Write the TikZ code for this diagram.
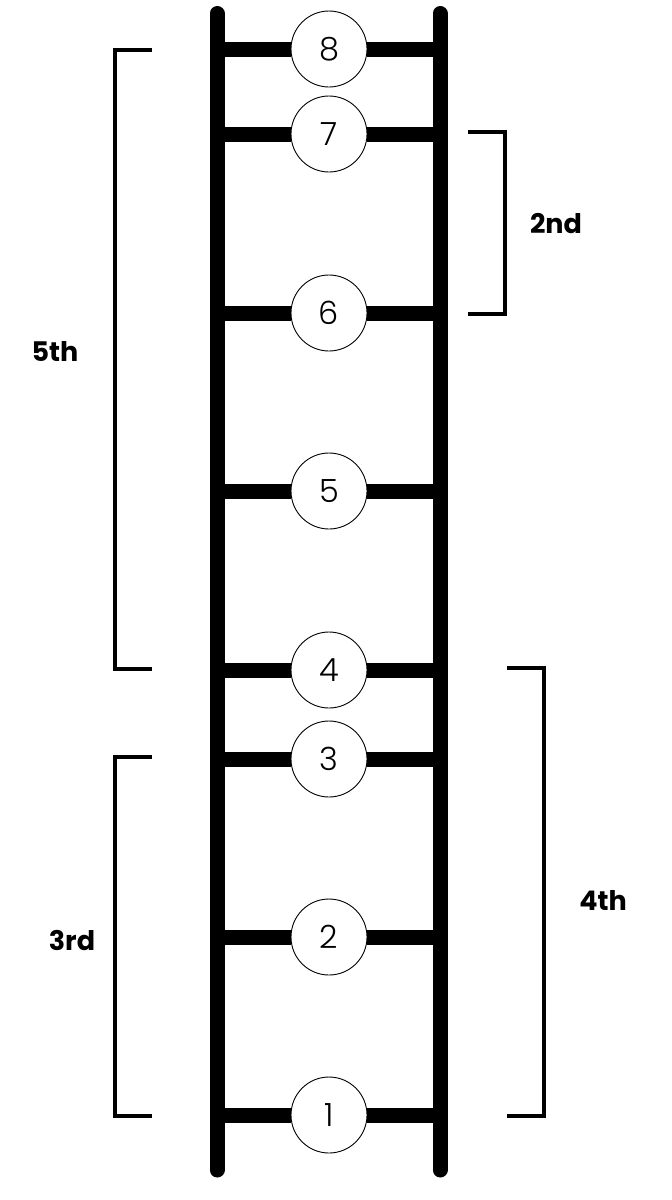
\documentclass[tikz,border=0pt]{standalone}
\usepackage{fontspec}
\setmainfont{Poppins}
\IfFontExistsTF{Poppins Light}{\newfontfamily\numfont{Poppins Light}}{\newfontfamily\numfont{Poppins}}
\begin{document}
\begin{tikzpicture}[x=1pt,y=-1pt,
  rail/.style={line width=15pt,line cap=round},
  rung/.style={line width=15pt},
  num/.style={circle,draw,line width=0.9pt,fill=white,minimum size=76pt,inner sep=0pt,font=\numfont\fontsize{32}{32}\selectfont},
  brk/.style={line width=3.5pt,line join=miter},
  lbl/.style={font=\fontsize{27}{27}\selectfont\bfseries}]
\useasboundingbox (0,0) rectangle (672,1200);
\coordinate (LT) at (217,13.5);
\coordinate (LB) at (217,1170);
\coordinate (RT) at (440,13.5);
\coordinate (RB) at (440,1170);
\draw[rail] (LT) -- (LB);
\draw[rail] (RT) -- (RB);
\foreach \i/\y in {8/49,7/134,6/313,5/491,4/670,3/759,2/937,1/1115}{
  \coordinate (L\i) at (217,\y);
  \coordinate (R\i) at (440,\y);
  \node[num] (c\i) at (329,\y) {\i};
  \draw[rung] (L\i) -- (c\i);
  \draw[rung] (c\i) -- (R\i);
}
% 5th bracket
\coordinate (a1) at (152,50);
\coordinate (a2) at (115,50);
\coordinate (a3) at (115,669);
\coordinate (a4) at (152,669);
\draw[brk] (a1) -- (a2) -- (a3) -- (a4);
\node[lbl] (t5) at (55,352) {5th};
% 2nd bracket
\coordinate (b1) at (468,132);
\coordinate (b2) at (505,132);
\coordinate (b3) at (505,314);
\coordinate (b4) at (468,314);
\draw[brk] (b1) -- (b2) -- (b3) -- (b4);
\node[lbl] (t2) at (556,224) {2nd};
% 3rd bracket
\coordinate (d1) at (152,757);
\coordinate (d2) at (115,757);
\coordinate (d3) at (115,1116);
\coordinate (d4) at (152,1116);
\draw[brk] (d1) -- (d2) -- (d3) -- (d4);
\node[lbl] (t3) at (72,941) {3rd};
% 4th bracket
\coordinate (e1) at (507,668);
\coordinate (e2) at (544,668);
\coordinate (e3) at (544,1116);
\coordinate (e4) at (507,1116);
\draw[brk] (e1) -- (e2) -- (e3) -- (e4);
\node[lbl] (t4) at (603,900) {4th};
\end{tikzpicture}
\end{document}
